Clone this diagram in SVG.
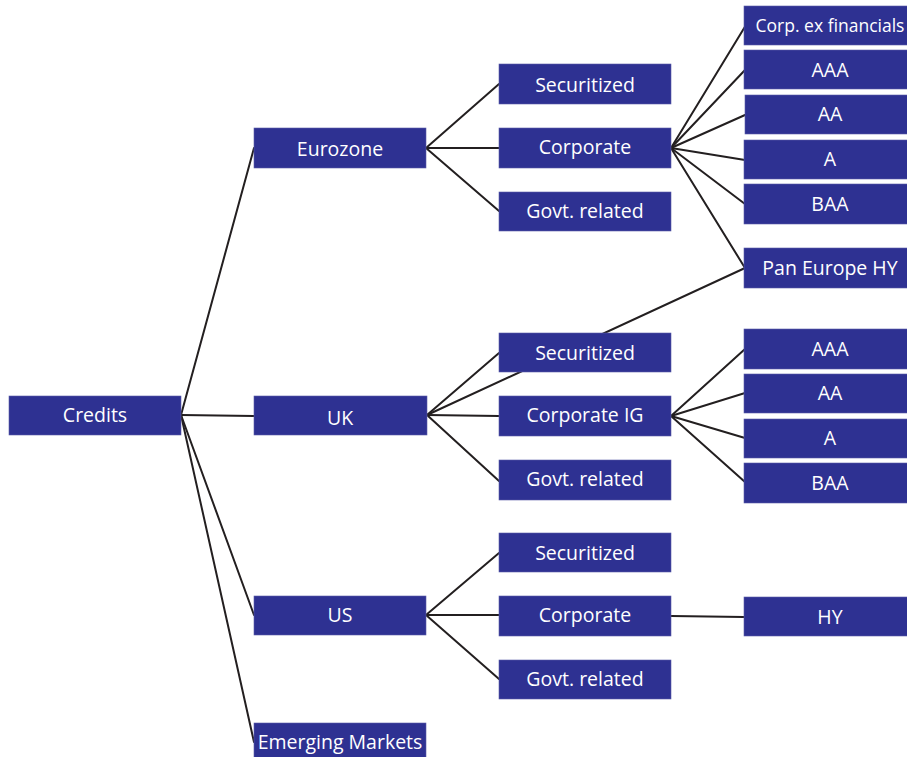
<svg xmlns="http://www.w3.org/2000/svg" width="907" height="757" viewBox="0 0 907 757">
<style>
.b{fill:#2e3192;stroke:#5a5da8;stroke-width:0.6}
.t{fill:#ffffff;font-family:"Open Sans","Noto Sans",sans-serif;font-size:19.5px;text-anchor:middle}
.c line{stroke:#231f20;stroke-width:2;stroke-linecap:round}
</style>
<rect width="907" height="757" fill="#ffffff"/>
<g id="connectors" class="c">
<line x1="181" y1="415" x2="254" y2="148"/>
<line x1="181" y1="415" x2="254" y2="416"/>
<line x1="181" y1="415" x2="254" y2="615"/>
<line x1="181" y1="415" x2="254" y2="742"/>
<line x1="426" y1="148" x2="499" y2="84"/>
<line x1="426" y1="148" x2="499" y2="148"/>
<line x1="426" y1="148" x2="499" y2="211"/>
<line x1="671" y1="148" x2="746" y2="25"/>
<line x1="671" y1="148" x2="745" y2="70"/>
<line x1="671" y1="148" x2="745" y2="115"/>
<line x1="671" y1="148" x2="745" y2="160"/>
<line x1="671" y1="148" x2="745" y2="204"/>
<line x1="671" y1="148" x2="745" y2="268"/>
<line x1="427" y1="415" x2="499" y2="353"/>
<line x1="427" y1="415" x2="499" y2="416"/>
<line x1="427" y1="415" x2="499" y2="481"/>
<line x1="427" y1="415" x2="745" y2="268"/>
<line x1="671" y1="416" x2="745" y2="349"/>
<line x1="671" y1="416" x2="745" y2="393"/>
<line x1="671" y1="416" x2="745" y2="438"/>
<line x1="671" y1="416" x2="745" y2="482"/>
<line x1="426" y1="615" x2="499" y2="553"/>
<line x1="426" y1="615" x2="499" y2="615"/>
<line x1="426" y1="615" x2="499" y2="679"/>
<line x1="671" y1="616" x2="744" y2="617"/>
</g>
<g id="credits"><rect class="b" x="9" y="396" width="172" height="39"/><text class="t" x="95" y="422">Credits</text></g>
<g id="eurozone"><rect class="b" x="254" y="128" width="172" height="40"/><text class="t" x="340" y="156">Eurozone</text></g>
<g id="uk"><rect class="b" x="254" y="396" width="173" height="39"/><text class="t" x="340" y="425">UK</text></g>
<g id="us"><rect class="b" x="254" y="596" width="172" height="39"/><text class="t" x="340" y="622">US</text></g>
<g id="emerging"><rect class="b" x="254" y="723" width="172" height="36"/><text class="t" x="340" y="749">Emerging Markets</text></g>
<g id="euro_sec"><rect class="b" x="499" y="64" width="172" height="40"/><text class="t" x="585" y="92">Securitized</text></g>
<g id="euro_corp"><rect class="b" x="499" y="128" width="172" height="40"/><text class="t" x="585" y="154">Corporate</text></g>
<g id="euro_govt"><rect class="b" x="499" y="192" width="172" height="39"/><text class="t" x="585" y="218">Govt. related</text></g>
<g id="uk_sec"><rect class="b" x="499" y="333" width="172" height="39"/><text class="t" x="585" y="360">Securitized</text></g>
<g id="uk_corp"><rect class="b" x="499" y="396" width="172" height="40"/><text class="t" x="585" y="422">Corporate IG</text></g>
<g id="uk_govt"><rect class="b" x="499" y="460" width="172" height="40"/><text class="t" x="585" y="486">Govt. related</text></g>
<g id="us_sec"><rect class="b" x="499" y="533" width="172" height="39"/><text class="t" x="585" y="560">Securitized</text></g>
<g id="us_corp"><rect class="b" x="499" y="596" width="172" height="40"/><text class="t" x="585" y="622">Corporate</text></g>
<g id="us_govt"><rect class="b" x="499" y="660" width="172" height="39"/><text class="t" x="585" y="686">Govt. related</text></g>
<g id="corp_ex_fin"><rect class="b" x="744" y="6" width="165" height="39"/><text class="t" x="830" y="32" style="font-size:17.5px">Corp. ex financials</text></g>
<g id="eu_aaa"><rect class="b" x="744" y="50" width="165" height="39"/><text class="t" x="830" y="77">AAA</text></g>
<g id="eu_aa"><rect class="b" x="745" y="95" width="164" height="39"/><text class="t" x="830" y="121">AA</text></g>
<g id="eu_a"><rect class="b" x="744" y="140" width="165" height="39"/><text class="t" x="830" y="166">A</text></g>
<g id="eu_baa"><rect class="b" x="744" y="184" width="165" height="40"/><text class="t" x="830" y="211">BAA</text></g>
<g id="pan_europe_hy"><rect class="b" x="744" y="248" width="165" height="40"/><text class="t" x="830" y="275">Pan Europe HY</text></g>
<g id="uk_aaa"><rect class="b" x="744" y="329" width="165" height="40"/><text class="t" x="830" y="356">AAA</text></g>
<g id="uk_aa"><rect class="b" x="744" y="374" width="165" height="39"/><text class="t" x="830" y="400">AA</text></g>
<g id="uk_a"><rect class="b" x="744" y="419" width="165" height="39"/><text class="t" x="830" y="445">A</text></g>
<g id="uk_baa"><rect class="b" x="744" y="463" width="165" height="40"/><text class="t" x="830" y="490">BAA</text></g>
<g id="us_hy"><rect class="b" x="744" y="597" width="165" height="39"/><text class="t" x="830" y="624">HY</text></g>
</svg>
